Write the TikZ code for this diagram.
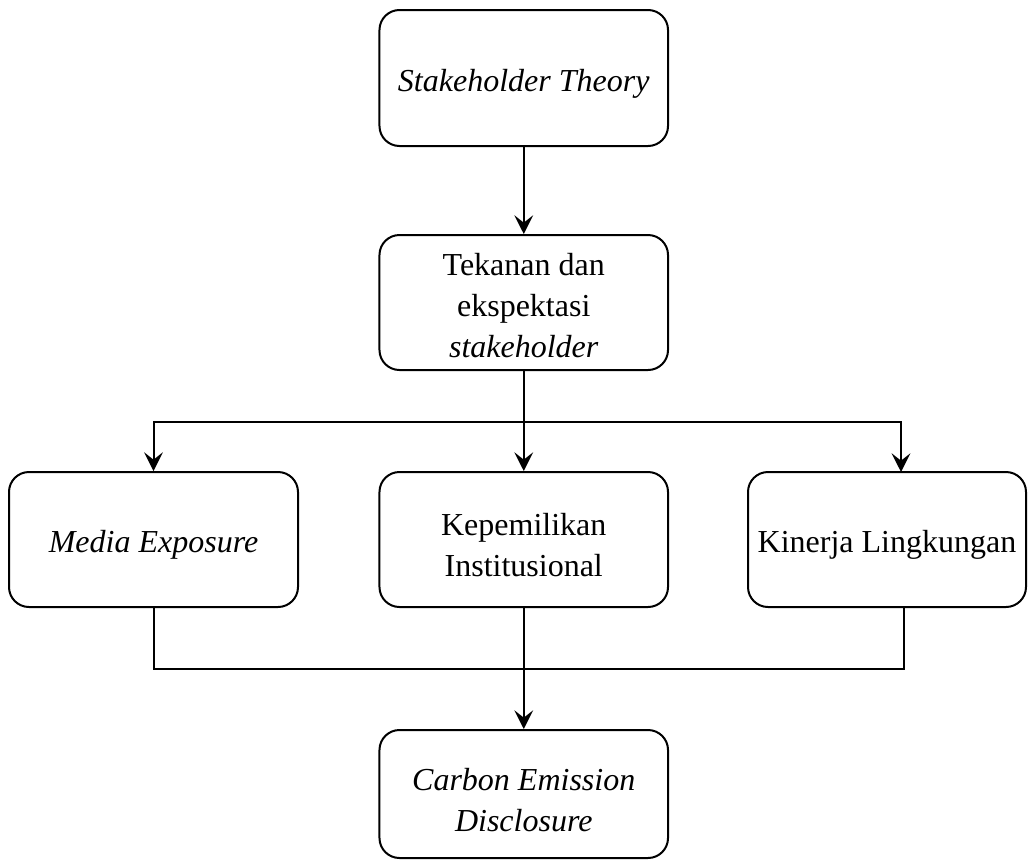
\documentclass[tikz,border=0pt]{standalone}
\usepackage{fontspec}
\setmainfont{Liberation Serif}
\usetikzlibrary{arrows.meta}
\begin{document}
\begin{tikzpicture}[x=0.75pt,y=-0.75pt,
  box/.style={draw, line width=1.5pt, rounded corners=15pt, inner sep=0pt},
  txt/.style={align=center, font=\fontsize{24}{30.75}\selectfont, inner sep=0pt},
  conn/.style={line width=1.5pt},
  arr/.style={conn, -{Stealth[length=14pt,width=14pt,inset=5.5pt]}}]
\useasboundingbox (0,0) rectangle (1028,861);
\node[box, minimum width=216.4pt, minimum height=102pt] (st) at (523.75,78) {};
\node[box, minimum width=216.4pt, minimum height=101.25pt] (tk) at (523.75,302.5) {};
\node[box, minimum width=216.75pt, minimum height=101.25pt] (me) at (153.5,539.5) {};
\node[box, minimum width=216.4pt, minimum height=101.25pt] (kp) at (523.75,539.5) {};
\node[box, minimum width=208.5pt, minimum height=101.25pt] (kn) at (887,539.5) {};
\node[box, minimum width=216.4pt, minimum height=96pt] (ce) at (523.75,794) {};
\node[txt] (stt) at ([yshift=-4.5pt]st.center) {\textit{Stakeholder Theory}};
\node[txt] (tkt) at ([yshift=-2.5pt]tk.center) {Tekanan dan\\ekspektasi\\\textit{stakeholder}};
\node[txt] (met) at ([yshift=-4pt]me.center) {\textit{Media Exposure}};
\node[txt] (kpt) at ([yshift=-4pt]kp.center) {Kepemilikan\\Institusional};
\node[txt] (knt) at ([yshift=-4pt]kn.center) {Kinerja Lingkungan};
\node[txt] (cet) at ([yshift=-4.5pt]ce.center) {\textit{Carbon Emission}\\\textit{Disclosure}};
\coordinate (split) at (523.75,421.7);
\coordinate (knin) at (901,472);
\coordinate (knout) at (904,607);
\coordinate (join) at (523.75,669);
\draw[arr] (st) -- (tk);
\draw[conn] (tk.south) -- (split);
\draw[arr] (split) -| (me.north);
\draw[arr] (split) -| (knin);
\draw[arr] (split) -- (kp.north);
\draw[conn] (me.south) |- (join) -| (knout);
\draw[arr] (kp.south) -- (ce.north);
\end{tikzpicture}
\end{document}
